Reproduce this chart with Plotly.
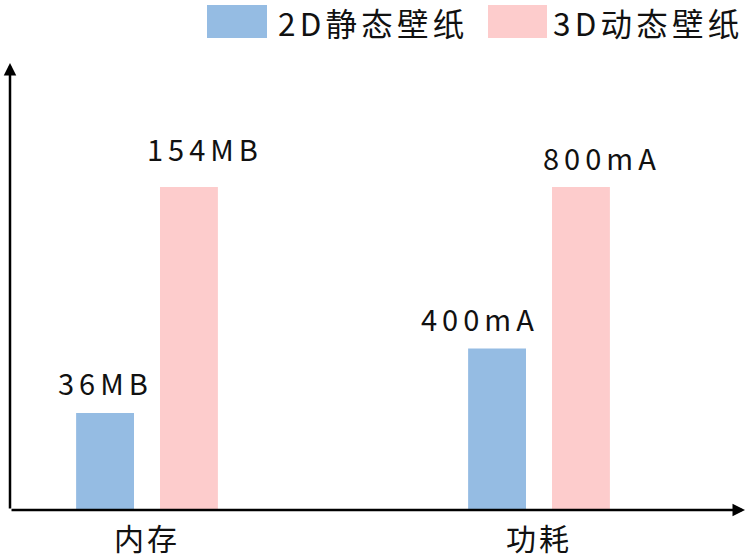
import plotly.graph_objects as go

categories = ["内存", "功耗"]
series_names = ["2D静态壁纸", "3D动态壁纸"]
# bar heights (relative, as drawn) and printed value labels
heights_2d = [30, 50]
heights_3d = [100, 100]
labels_2d = ["36MB", "400mA"]
labels_3d = ["154MB", "800mA"]
colors = ["#95BCE3", "#FDCCCC"]

FONT = "Noto Sans CJK SC, Noto Sans, sans-serif"


def spaced(s, px):
    return f'<span style="letter-spacing:{px}px">{s}</span>'


fig = go.Figure()
fig.add_trace(go.Bar(x=categories, y=heights_2d, name=series_names[0],
                     marker=dict(color=colors[0], line=dict(width=0)), showlegend=False))
fig.add_trace(go.Bar(x=categories, y=heights_3d, name=series_names[1],
                     marker=dict(color=colors[1], line=dict(width=0)), showlegend=False))

W, H = 752, 560
ml, mr, mt, mb = 10, 7, 63, 50
pw = W - ml - mr
ph = H - mt - mb

# label placement offsets (pixels) relative to each bar top / category centre
xshift_2d = [-42, -59]
xshift_3d = [58, 63]
yshift_2d = [8.5, 7.5]
yshift_3d = [16.5, 7.5]

annotations = []
for i, c in enumerate(categories):
    annotations.append(dict(x=c, y=heights_2d[i], text=spaced(labels_2d[i], 5), showarrow=False,
                            xshift=xshift_2d[i], yshift=yshift_2d[i], yanchor="bottom",
                            font=dict(size=29, color="#111", family=FONT)))
    annotations.append(dict(x=c, y=heights_3d[i], text=spaced(labels_3d[i], 5), showarrow=False,
                            xshift=xshift_3d[i], yshift=yshift_3d[i], yanchor="bottom",
                            font=dict(size=29, color="#111", family=FONT)))
# axis arrows
annotations.append(dict(xref="paper", yref="paper", x=0, y=1, ax=0, ay=ph, axref="pixel", ayref="pixel",
                        text="", showarrow=True, arrowhead=2, arrowsize=1, arrowwidth=2.5, arrowcolor="#000"))
annotations.append(dict(xref="paper", yref="paper", x=1, y=0, ax=-pw, ay=0, axref="pixel", ayref="pixel",
                        text="", showarrow=True, arrowhead=2, arrowsize=1, arrowwidth=2.5, arrowcolor="#000"))

# custom legend
shapes = []
legend_items = [(207, 267, 277), (488, 547, 552)]
for (x0, x1, tx), name, col in zip(legend_items, series_names, colors):
    shapes.append(dict(type="rect", xref="paper", yref="paper",
                       x0=(x0 - ml) / pw, x1=(x1 - ml) / pw,
                       y0=(H - mb - 38) / ph, y1=(H - mb - 5) / ph,
                       fillcolor=col, line=dict(width=0)))
    annotations.append(dict(xref="paper", yref="paper", x=(tx - ml) / pw, y=(H - mb - 22.5) / ph,
                            xanchor="left", yanchor="middle", text=spaced(name, 4.2), showarrow=False,
                            borderpad=0,
                            font=dict(size=31.5, color="#111", family=FONT)))

fig.update_layout(
    width=W, height=H,
    margin=dict(l=ml, r=mr, t=mt, b=mb),
    paper_bgcolor="white", plot_bgcolor="white",
    barmode="group", bargap=0.572, bargroupgap=0.31,
    xaxis=dict(range=[-0.3495, 1.5255], showgrid=False, showline=False, zeroline=False,
               ticks="", tickvals=categories, ticktext=[spaced(c, 3) for c in categories],
               ticklabelstandoff=9, automargin=False,
               tickfont=dict(size=30, color="#111", family=FONT)),
    yaxis=dict(range=[0, 138.4], showgrid=False, showline=False, zeroline=False,
               showticklabels=False, ticks="", automargin=False),
    annotations=annotations, shapes=shapes,
    showlegend=False,
)

fig.write_html("out.html", config={"displayModeBar": False},
               post_script="document.body.style.margin='0';")
